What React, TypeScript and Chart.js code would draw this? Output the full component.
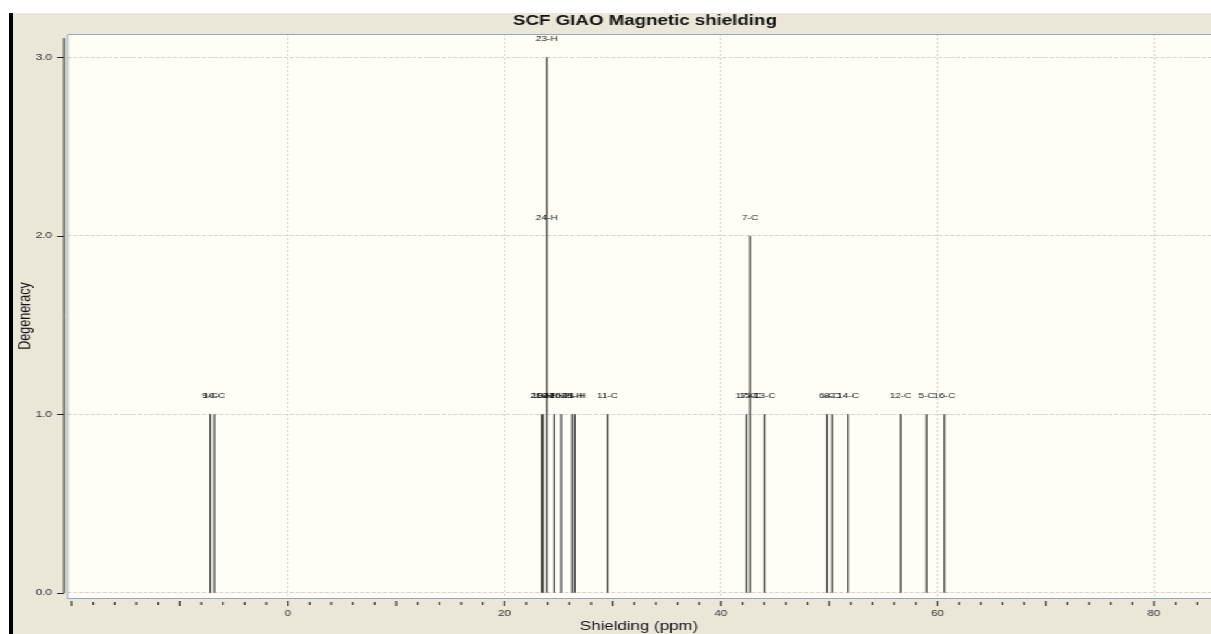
import React, { useEffect, useRef } from 'react';
import { Chart, registerables } from 'chart.js';

Chart.register(...registerables);

// ---- data ----
const peakShifts = [-7.2, -6.8, 23.43, 23.57, 23.91, 24.59, 25.24, 26.25, 26.5, 29.52, 42.35, 42.69, 44.04, 49.8, 50.26, 51.74, 56.6, 59.0, 60.64];
const peakDegeneracy = [1, 1, 1, 1, 3, 1, 1, 1, 1, 1, 1, 2, 1, 1, 1, 1, 1, 1, 1];
const peakLabels = [
  ['9-C'], ['10-C'], ['20-H'], ['19-H'], ['18-H', '24-H', '23-H'], ['22-H'], ['25-H'], ['26-H'], ['21-H'],
  ['11-C'], ['17-C'], ['15-C', '7-C'], ['13-C'], ['6-C'], ['8-C'], ['14-C'], ['12-C'], ['5-C'], ['16-C'],
];
const yTickValues = [0, 1, 2, 3];
const xMinorTicks = [-20, -18, -16, -14, -12, -10, -8, -6, -4, -2, 0, 2, 4, 6, 8, 10, 12, 14, 16, 18, 20, 22, 24, 26, 28, 30, 32, 34, 36, 38, 40, 42, 44, 46, 48, 50, 52, 54, 56, 58, 60, 62, 64, 66, 68, 70, 72, 74, 76, 78, 80, 82, 84];
const xLabelValues = [0, 20, 40, 60, 80];
const titleText = 'SCF GIAO Magnetic shielding';
const xTitle = 'Shielding (ppm)';
const yTitle = 'Degeneracy';

// ---- layout ----
const W = 922;
const H = 621;
const S = 1198 / W;
const FONT = '"Liberation Sans", Arial, sans-serif';

const extras = {
  id: 'extras',
  beforeDraw(chart: any) {
    const { ctx, chartArea: a } = chart;
    ctx.save();
    ctx.fillStyle = '#fefef6';
    ctx.fillRect(a.left, a.top, a.right - a.left, a.bottom - a.top);
    ctx.restore();
  },
  afterDraw(chart: any) {
    const { ctx, chartArea: a } = chart;
    const xs = chart.scales.x;
    const ys = chart.scales.y;
    ctx.save();
    ctx.setLineDash([]);
    // plot border
    ctx.strokeStyle = '#93a9bf';
    ctx.lineWidth = 1;
    ctx.beginPath();
    ctx.moveTo(a.left + 0.5, a.bottom + 0.5);
    ctx.lineTo(a.left + 0.5, a.top + 0.5);
    ctx.lineTo(a.right, a.top + 0.5);
    ctx.moveTo(a.left, a.bottom + 0.5);
    ctx.lineTo(a.right, a.bottom + 0.5);
    ctx.stroke();
    // y axis line and ticks
    const axX = a.left - 2.3;
    ctx.strokeStyle = '#222';
    ctx.lineWidth = 1;
    ctx.beginPath();
    ctx.moveTo(axX, a.top + 4);
    ctx.lineTo(axX, a.bottom - 5);
    yTickValues.forEach((v) => {
      const py = Math.round(ys.getPixelForValue(v)) + 0.5;
      ctx.moveTo(axX - 5.4, py);
      ctx.lineTo(axX, py);
    });
    ctx.stroke();
    // x ticks
    ctx.lineWidth = 1.1;
    ctx.strokeStyle = '#222';
    ctx.beginPath();
    xMinorTicks.forEach((v) => {
      const px = xs.getPixelForValue(v);
      const major = v % 10 === 0;
      ctx.moveTo(px, a.bottom + (major ? 3 : 4));
      ctx.lineTo(px, a.bottom + (major ? 8 : 7));
    });
    ctx.stroke();
    // peak labels
    ctx.fillStyle = '#111';
    ctx.font = `7.8px ${FONT}`;
    ctx.textAlign = 'center';
    ctx.textBaseline = 'middle';
    peakShifts.forEach((s, i) => {
      const px = xs.getPixelForValue(s);
      peakLabels[i].forEach((lab, j) => {
        const py = ys.getPixelForValue(j + 1) - 18;
        ctx.fillText(lab, px, py);
      });
    });
    // title
    ctx.fillStyle = '#111';
    ctx.font = `bold 14.4px ${FONT}`;
    ctx.fillText(titleText, 486.4, 8.5);
    ctx.restore();
  },
};

export default function App() {
  const ref = useRef<HTMLCanvasElement>(null);
  useEffect(() => {
    if (!ref.current) return;
    const points: any[] = [];
    peakShifts.forEach((x, i) => {
      points.push({ x, y: 0 });
      points.push({ x, y: peakDegeneracy[i] });
      points.push({ x, y: null });
    });
    const chart = new Chart(ref.current, {
      type: 'scatter',
      data: {
        datasets: [
          {
            data: points,
            showLine: true,
            spanGaps: false,
            borderColor: '#333',
            borderWidth: 1.2,
            pointRadius: 0,
            pointHoverRadius: 0,
          },
        ],
      },
      options: {
        responsive: false,
        animation: false,
        devicePixelRatio: 1,
        layout: { padding: { top: 21, left: 0, right: 0, bottom: 0 } },
        plugins: { legend: { display: false }, title: { display: false }, tooltip: { enabled: false } },
        font: { family: FONT },
        scales: {
          x: {
            type: 'linear',
            min: -20.42,
            max: 85.27,
            afterBuildTicks: (s: any) => {
              s.ticks = xMinorTicks.map((v) => ({ value: v }));
            },
            afterFit: (s: any) => {
              s.height = 36;
            },
            ticks: {
              autoSkip: false,
              maxRotation: 0,
              minRotation: 0,
              padding: 2,
              color: '#333',
              font: { family: FONT, size: 9 },
              callback: (v: any) => (xLabelValues.includes(Number(v)) ? String(v) : ''),
            },
            grid: {
              color: (c: any) => (c.tick && xLabelValues.includes(c.tick.value) ? '#cfcfcf' : 'rgba(0,0,0,0)'),
              lineWidth: 1,
              tickLength: 8,
              tickColor: 'rgba(0,0,0,0)',
            },
            border: { display: false, dash: [2, 2] },
            title: { display: true, text: xTitle, color: '#111', font: { family: FONT, size: 13 }, padding: { top: 0, bottom: 0 } },
          },
          y: {
            min: -0.03,
            max: 3.13,
            afterBuildTicks: (s: any) => {
              s.ticks = yTickValues.map((v) => ({ value: v }));
            },
            afterFit: (s: any) => {
              s.width = 41.5;
            },
            ticks: {
              padding: 3.5,
              color: '#333',
              font: { family: FONT, size: 9 },
              callback: (v: any) => Number(v).toFixed(1),
            },
            grid: { color: '#d2d2d2', lineWidth: 1, tickLength: 8, tickColor: 'rgba(0,0,0,0)' },
            border: { display: false, dash: [3, 1.5] },
            title: { display: true, text: yTitle, color: '#111', font: { family: FONT, size: 12.5 }, padding: { top: 1.7, bottom: 0 } },
          },
        },
      } as any,
      plugins: [extras],
    });
    return () => chart.destroy();
  }, []);

  return (
    <>
      <div style={{ position: 'absolute', left: 9, top: 13, width: 4, height: H, background: '#000' }} />
      <div
        style={{
          position: 'absolute',
          left: 13,
          top: 13,
          width: W,
          height: H,
          background: '#eae6d8',
          transform: `scaleX(${S})`,
          transformOrigin: 'left top',
        }}
      >
        <canvas ref={ref} width={W} height={H} style={{ display: 'block' }} />
      </div>
    </>
  );
}
